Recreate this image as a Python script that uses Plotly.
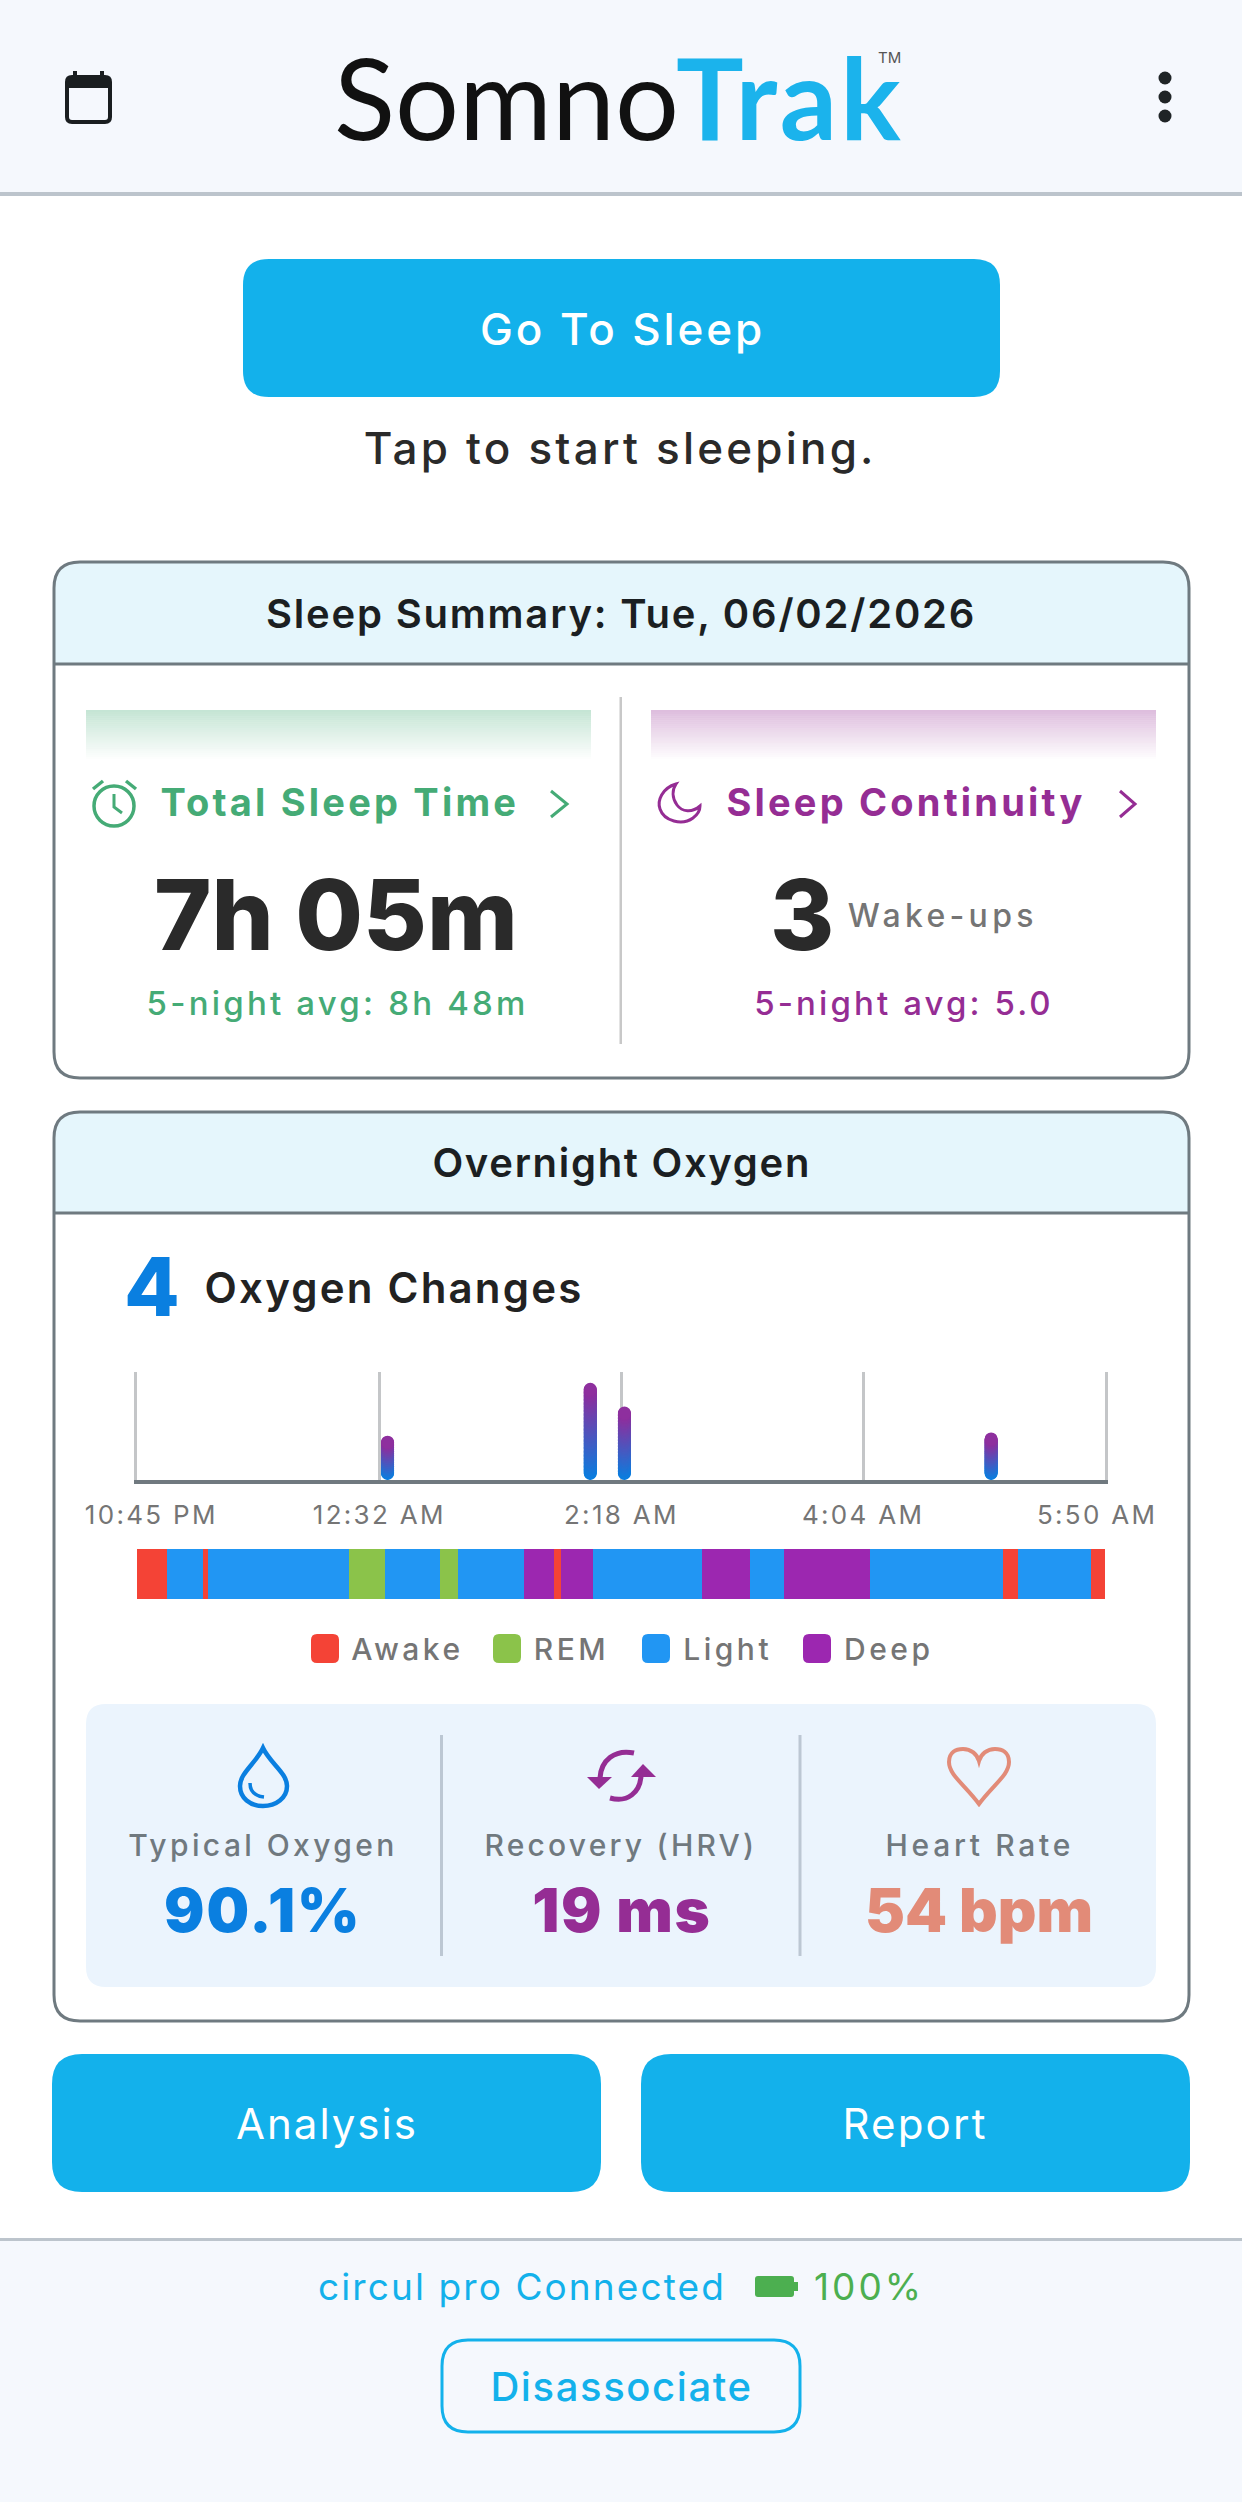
import json

import numpy as np
import plotly.graph_objects as go

W = 1242
H = 2502
FONT = "Inter"

SKY = "#13B1EB"
GREEN = "#45AB76"
PURPLE = "#952D94"
BLUE = "#0A7FE0"
SALMON = "#E28B78"
DARK = "#2A2A2A"
GREY = "#70797F"

# oxygen change events, minutes after 10:45 PM and size of the change
change_minutes = [110, 199, 214, 375]
change_size = [4.1, 9.0, 6.8, 4.4]

axis_minutes = [0, 106.25, 212.5, 318.75, 425]
axis_labels = ["10:45 PM", "12:32 AM", "2:18 AM", "4:04 AM", "5:50 AM"]

# sleep stages in order, with minutes spent in each
stages = ["Awake", "Light", "Awake", "Light", "REM", "Light", "REM", "Light", "Deep", "Awake",
          "Deep", "Light", "Deep", "Light", "Deep", "Light", "Awake", "Light", "Awake"]
stage_minutes = [13, 16, 2, 62, 16, 24, 8, 29, 13, 3, 14, 48, 21, 15, 38, 58, 7, 32, 6]

legend_names = ["Awake", "REM", "Light", "Deep"]
stage_colors = {"Awake": "#F44336", "REM": "#8BC34A", "Light": "#2196F3", "Deep": "#9C27B0"}

shapes = []
notes = []
tracking = []


def round_rect(x0, y0, x1, y1, r):
    return (f"M{x0+r} {y0} H{x1-r} Q{x1} {y0} {x1} {y0+r} V{y1-r} Q{x1} {y1} {x1-r} {y1} "
            f"H{x0+r} Q{x0} {y1} {x0} {y1-r} V{y0+r} Q{x0} {y0} {x0+r} {y0} Z")


def add_path(path, fill=None, line=None, width=0, layer="below"):
    shapes.append(dict(type="path", path=path, xref="x3", yref="y3", layer=layer,
                       fillcolor=fill if fill else "rgba(0,0,0,0)",
                       line=dict(color=line if line else "rgba(0,0,0,0)", width=width)))


def add_rect(x0, y0, x1, y1, fill):
    shapes.append(dict(type="rect", x0=x0, y0=y0, x1=x1, y1=y1, xref="x3", yref="y3",
                       layer="below", fillcolor=fill, line=dict(width=0)))


def add_dot(cx, cy, r, fill=None, line=None, width=0):
    shapes.append(dict(type="circle", x0=cx-r, y0=cy-r, x1=cx+r, y1=cy+r, xref="x3", yref="y3",
                       layer="below", fillcolor=fill if fill else "rgba(0,0,0,0)",
                       line=dict(color=line if line else "rgba(0,0,0,0)", width=width)))


def add_text(x, y, text, size, color, weight=400, track=0, font=FONT):
    notes.append(dict(x=x, y=y, text=text, xref="x3", yref="y3", showarrow=False,
                      xanchor="center", yanchor="middle",
                      font=dict(family=font, size=size, color=color, weight=weight)))
    tracking.append(track)


def add_card(top, band_bottom, bottom, title, track):
    x0, x1 = 54, 1189
    r = 26
    add_path(f"M{x0} {band_bottom} V{top+r} Q{x0} {top} {x0+r} {top} H{x1-r} Q{x1} {top} {x1} {top+r} V{band_bottom} Z",
             fill="#E5F6FC")
    add_rect(x0, band_bottom-1.5, x1, band_bottom+1.5, "#6F7A80")
    add_path(round_rect(x0, top, x1, bottom, r), line="#6F7A80", width=3)
    add_text(621, (top+band_bottom)/2, title, 40, "#1B1F22", 600, track)


def add_fade(x0, x1, y0, y1, rgb):
    steps = 24
    for i in range(steps):
        alpha = 0.31*(1-i/steps)
        a = y0+(y1-y0)*i/steps
        b = y0+(y1-y0)*(i+1)/steps
        add_rect(x0, a, x1, b, f"rgba({rgb},{alpha:.3f})")


# header and footer backgrounds
add_rect(0, 0, W, 192, "#F5F8FD")
add_rect(0, 192, W, 196, "#BCC4CC")
add_rect(0, 2238, W, 2241, "#BCC4CC")
add_rect(0, 2241, W, H, "#F5F8FD")

# calendar icon
add_path(round_rect(67, 77, 110, 122, 5), line="#1A1E20", width=4)
add_rect(67, 77, 110, 88, "#1A1E20")
add_rect(73, 71, 77, 78, "#1A1E20")
add_rect(100, 71, 104, 78, "#1A1E20")

# menu dots
for cy in [78, 97, 116]:
    add_dot(1165, cy, 6.5, fill="#1F2426")

# logo
add_text(506, 96, "Somno", 113, "#111111", 400, 0, "Lato")
add_text(790, 96, "Trak", 113, "#1BB3EC", 700, 3, "Lato")
add_text(889, 57, "TM", 15, "#555555", 400)

# go to sleep
add_path(round_rect(243, 259, 1000, 397, 26), fill=SKY)
add_text(622, 329, "Go To Sleep", 44, "white", 500, 2.9)
add_text(620, 448, "Tap to start sleeping.", 44, DARK, 500, 3.2)

# sleep summary card
add_card(562, 664, 1078, "Sleep Summary: Tue, 06/02/2026", 1.8)
add_rect(619.5, 697, 622, 1044, "#C8C8C8")
add_fade(86, 591, 710, 759, "69,171,118")
add_fade(651, 1156, 710, 759, "149,45,148")

# clock icon
add_dot(114, 806, 20, line=GREEN, width=3.5)
add_path("M114 794 V807 L122 813", line=GREEN, width=3)
add_path("M93 789 L103 781", line=GREEN, width=3.5)
add_path("M136 789 L126 781", line=GREEN, width=3.5)
add_text(339.5, 802, "Total Sleep Time", 38, GREEN, 700, 3.2)
add_path("M551 791 L567 804 L551 817", line=GREEN, width=3)

# moon icon
add_path("M676 784 C662 788 657 801 660 809 C664 821 682 826 693 818 C697 815 700 811 700 806 "
         "C692 813 682 812 677 805 C672 798 672 790 676 784 Z", line=PURPLE, width=3)
add_text(905.5, 802, "Sleep Continuity", 38, PURPLE, 700, 3.2)
add_path("M1120 791 L1135 804 L1120 817", line=PURPLE, width=3)

add_text(336, 914, "7h 05m", 98, DARK, 800)
add_text(802, 914, "3", 98, DARK, 800)
add_text(943, 915, "Wake-ups", 32, "#757575", 500, 4.3)
add_text(337, 1003, "5-night avg: 8h 48m", 33, GREEN, 500, 3.2)
add_text(903.5, 1003, "5-night avg: 5.0", 33, PURPLE, 500, 3.1)

# overnight oxygen card
add_card(1112, 1213, 2021, "Overnight Oxygen", 1.7)
add_text(152, 1287, "4", 81, BLUE, 800)
add_text(394, 1287, "Oxygen Changes", 42, "#222222", 600, 2.2)

# sleep stage legend
legend_swatch = [311, 493, 642, 803]
legend_label = [407, 571, 727, 888]
for name, sx, lx in zip(legend_names, legend_swatch, legend_label):
    add_path(round_rect(sx, 1634, sx+28, 1663, 6), fill=stage_colors[name])
    add_text(lx, 1649, name, 30, "#757575", 500, 3.5)

# stats box
add_path(round_rect(86, 1704, 1156, 1987, 20), fill="#EBF4FD")
add_rect(440, 1735, 443, 1956, "#BCC7D3")
add_rect(798.5, 1735, 801.5, 1956, "#BCC7D3")

add_path("M263 1748 C256 1763 240 1773 240 1786 C240 1798 250 1806 263 1806 C276 1806 287 1798 287 1786 "
         "C287 1773 270 1763 263 1748 Z", line=BLUE, width=4.5)
add_path("M250 1783 C250 1791 255 1796 264 1797", line=BLUE, width=3.5)
add_text(263, 1845, "Typical Oxygen", 30, GREY, 500, 3.4)
add_text(263, 1910, "90.1%", 60, BLUE, 900, 2)

add_path("M634 1753 C615 1749 601 1760 600 1778", line=PURPLE, width=5)
add_path("M587 1777 H612 L599 1789 Z", fill=PURPLE)
add_path("M610 1798 C628 1803 640 1792 641 1776", line=PURPLE, width=5)
add_path("M631 1777 H656 L643 1764 Z", fill=PURPLE)
add_text(621, 1845, "Recovery (HRV)", 30, GREY, 500, 3.2)
add_text(621, 1910, "19 ms", 60, PURPLE, 900, 1.5)

add_path("M979 1804 C965 1785 949 1775 949 1762 C949 1752 956 1749 963 1749 C971 1749 977 1754 979 1761 "
         "C981 1754 987 1749 995 1749 C1002 1749 1009 1752 1009 1762 C1009 1775 993 1785 979 1804 Z",
         line=SALMON, width=4)
add_text(979, 1845, "Heart Rate", 30, GREY, 500, 3.7)
add_text(979, 1910, "54 bpm", 60, SALMON, 900, 0)

# bottom buttons
add_path(round_rect(52, 2054, 601, 2192, 30), fill=SKY)
add_text(327, 2123, "Analysis", 42, "white", 400, 2)
add_path(round_rect(641, 2054, 1190, 2192, 30), fill=SKY)
add_text(915, 2123, "Report", 42, "white", 400, 2.2)

# footer
add_text(521.5, 2286, "circul pro Connected", 37, SKY, 400, 2.1)
add_path(round_rect(755, 2276, 794, 2297, 3), fill="#4CAF50")
add_rect(794, 2282, 798, 2291, "#4CAF50")
add_text(868.5, 2286, "100%", 37, "#4CAF50", 400, 3)
add_path(round_rect(442, 2340, 800, 2432, 26), line=SKY, width=3)
add_text(621.5, 2386, "Disassociate", 40, SKY, 500, 1.6)

fig = go.Figure()

# page layer, only there so shapes and texts can use pixel positions
fig.add_trace(go.Scatter(x=[None], y=[None], xaxis="x3", yaxis="y3", hoverinfo="skip", showlegend=False))

# each change is a column of dots fading from blue at the base to purple at the top
low = np.array([10, 127, 224])
high = np.array([142, 47, 158])
xs = []
ys = []
colors = []
for minute, size in zip(change_minutes, change_size):
    n = int(size*12)
    for f in np.linspace(0, 1, n):
        xs.append(minute)
        ys.append(0.6+f*(size-1.2))
        c = low+(high-low)*f
        colors.append(f"rgb({int(c[0])},{int(c[1])},{int(c[2])})")
fig.add_trace(go.Scatter(x=xs, y=ys, mode="markers", marker=dict(size=13, color=colors, line=dict(width=0)),
                         hoverinfo="skip", showlegend=False, xaxis="x", yaxis="y"))

starts = np.concatenate([[0], np.cumsum(stage_minutes)[:-1]])
fig.add_trace(go.Bar(x=stage_minutes, base=starts, y=["Sleep"]*len(stages), orientation="h",
                     marker=dict(color=[stage_colors[s] for s in stages], line=dict(width=0)),
                     width=1, text=stages, textposition="none", hoverinfo="text",
                     showlegend=False, xaxis="x2", yaxis="y2"))

# axis labels sit on the grid lines, the two end ones are pulled inwards
shift = [14, 0, 0, 0, -8]
for minute, label, dx in zip(axis_minutes, axis_labels, shift):
    notes.append(dict(x=minute, y=1514, text=label, xref="x", yref="y3", xshift=dx, showarrow=False,
                      xanchor="center", yanchor="middle",
                      font=dict(family=FONT, size=26, color="#757575", weight=400)))
    tracking.append(2.3)

chart_x = [137/W, 1105/W]
fig.update_layout(
    width=W, height=H,
    margin=dict(l=0, r=0, t=0, b=0),
    paper_bgcolor="white",
    plot_bgcolor="rgba(0,0,0,0)",
    font=dict(family=FONT),
    showlegend=False,
    shapes=shapes,
    annotations=notes,
    bargap=0,
    xaxis=dict(domain=chart_x, range=[0, 425], anchor="y", tickvals=axis_minutes, showticklabels=False,
               ticks="", showgrid=True, gridcolor="#C4C6C8", gridwidth=3, zeroline=False,
               showline=True, linecolor="#70797F", linewidth=4, fixedrange=True),
    yaxis=dict(domain=[1-1480/H, 1-1372/H], range=[0, 10], anchor="x", showticklabels=False, ticks="",
               showgrid=False, zeroline=False, showline=True, mirror=True, linecolor="#C4C6C8", linewidth=3,
               fixedrange=True),
    xaxis2=dict(domain=chart_x, range=[0, 425], anchor="y2", visible=False, fixedrange=True),
    yaxis2=dict(domain=[1-1599/H, 1-1549/H], anchor="x2", visible=False, fixedrange=True),
    xaxis3=dict(domain=[0, 1], range=[0, W], anchor="y3", visible=False, fixedrange=True),
    yaxis3=dict(domain=[0, 1], range=[H, 0], anchor="x3", visible=False, fixedrange=True),
)

# the page has a default body margin and plotly has no letter spacing option
post = """
document.body.style.margin = '0';
var spacing = %s;
spacing.forEach(function (px, i) {
    var t = document.querySelector('.annotation[data-index="' + i + '"] .annotation-text');
    if (t) { t.style.letterSpacing = px + 'px'; }
});
""" % json.dumps(tracking)

fig.write_html("out.html", post_script=post, config=dict(displayModeBar=False))
